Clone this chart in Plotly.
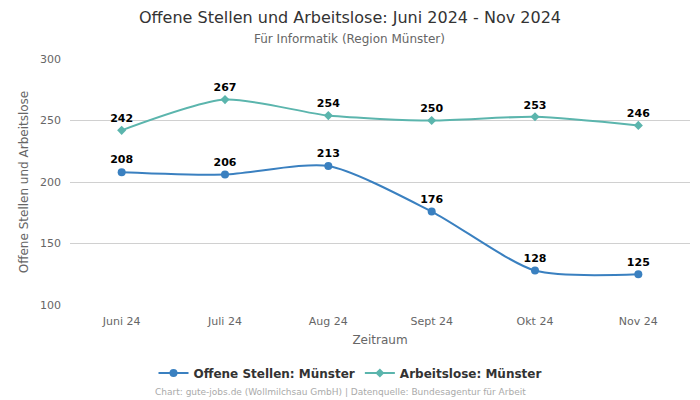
import plotly.graph_objects as go

categories = ["Juni 24", "Juli 24", "Aug 24", "Sept 24", "Okt 24", "Nov 24"]
offene_stellen = [208, 206, 213, 176, 128, 125]
arbeitslose = [242, 267, 254, 250, 253, 246]
y_ticks = [100, 150, 200, 250, 300]

font_family = "DejaVu Sans"

fig = go.Figure()
fig.add_trace(go.Scatter(
    x=categories, y=offene_stellen, name="Offene Stellen: Münster",
    mode="lines+markers+text", line=dict(color="#3a80c0", width=2, shape="spline", smoothing=0.7),
    marker=dict(symbol="circle", size=8, color="#3a80c0"),
    text=[str(v) for v in offene_stellen], textposition="top center",
    textfont=dict(family=font_family, size=11, color="#000000", weight="bold"),
    cliponaxis=False,
))
fig.add_trace(go.Scatter(
    x=categories, y=arbeitslose, name="Arbeitslose: Münster",
    mode="lines+markers+text", line=dict(color="#5bb5ad", width=2, shape="spline", smoothing=0.7),
    marker=dict(symbol="diamond", size=7, color="#5bb5ad"),
    text=[str(v) for v in arbeitslose], textposition="top center",
    textfont=dict(family=font_family, size=11, color="#000000", weight="bold"),
    cliponaxis=False,
))

fig.update_layout(
    width=700, height=400,
    margin=dict(l=70, r=10, t=59, b=95, autoexpand=False),
    paper_bgcolor="white", plot_bgcolor="white",
    font=dict(family=font_family, color="#666666", size=11),
    xaxis=dict(
        type="category", range=[-0.5, 5.5], showgrid=False, showline=False, zeroline=False,
        ticks="", tickfont=dict(size=11, color="#666666"), ticklabelstandoff=8,
        title=dict(text="Zeitraum", font=dict(size=12, color="#666666"), standoff=8),
    ),
    yaxis=dict(
        range=[100, 300], tickvals=y_ticks, showgrid=True, gridcolor="#d0d0d0", gridwidth=1,
        zeroline=False, showline=False, ticks="", tickfont=dict(size=11, color="#666666"),
        ticklabelstandoff=8,
        title=dict(text="Offene Stellen und Arbeitslose", font=dict(size=12, color="#666666"), standoff=8),
    ),
    legend=dict(
        orientation="h", xref="container", x=0.5, xanchor="center", yref="container", y=0.0675, yanchor="middle",
        font=dict(size=12, color="#333333", weight="bold"),
    ),
    showlegend=True,
)

fig.add_annotation(
    text="Offene Stellen und Arbeitslose: Juni 2024 - Nov 2024",
    xref="paper", yref="paper", x=(350 - 70) / 620, y=(305 - 17) / 246, xanchor="center", yanchor="middle",
    showarrow=False, font=dict(size=16, color="#333333", family=font_family),
)
fig.add_annotation(
    text="Für Informatik (Region Münster)",
    xref="paper", yref="paper", x=(349 - 70) / 620, y=(305 - 39) / 246, xanchor="center", yanchor="middle",
    showarrow=False, font=dict(size=12, color="#666666", family=font_family),
)
fig.add_annotation(
    text="Chart: gute-jobs.de (Wollmilchsau GmbH) | Datenquelle: Bundesagentur für Arbeit",
    xref="paper", yref="paper", x=(340 - 70) / 620, y=(305 - 392) / 246, xanchor="center", yanchor="middle",
    showarrow=False, font=dict(size=9, color="#aaaaaa", family=font_family),
)

fig.write_html(
    "out.html",
    config={"displayModeBar": False},
    post_script="document.body.style.margin='0px';document.body.style.overflow='hidden';",
)
